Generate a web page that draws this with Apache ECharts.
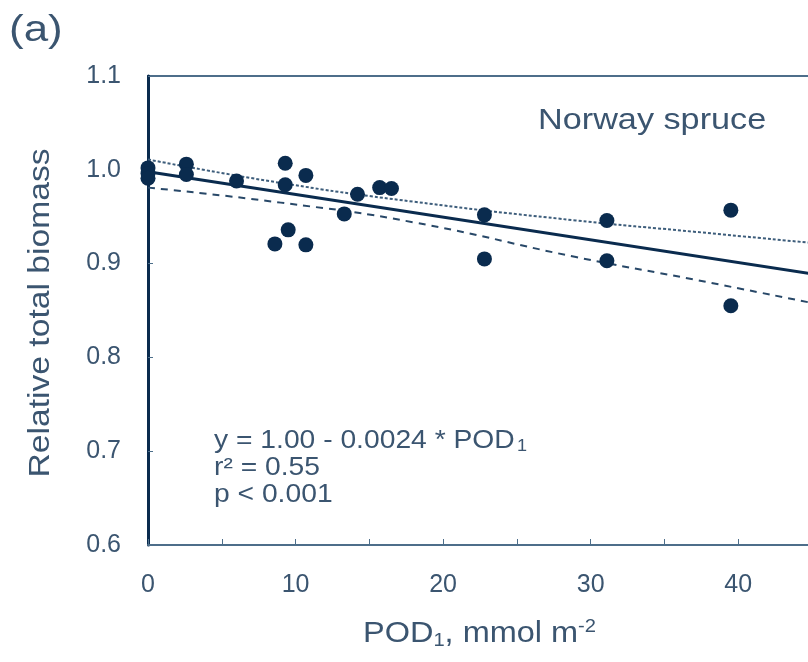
<!DOCTYPE html>
<html>
<head>
<meta charset="utf-8">
<script src="https://cdn.jsdelivr.net/npm/echarts@6/dist/echarts.min.js"></script>
<style>html,body{margin:0;padding:0;background:#fff;}#c{width:808px;height:662px;}</style>
</head>
<body>
<div id="c"></div>
<script>
// Observed points: POD1 (mmol m-2) and relative total biomass
var podValues = [0, 0, 0, 2.6, 2.6, 6.0, 8.6, 9.3, 9.3, 9.5, 10.7, 10.7, 13.3, 14.2, 15.7, 16.5, 22.8, 22.8, 31.1, 31.1, 39.5, 39.5];
var biomassValues = [1.002, 0.996, 0.991, 1.006, 0.995, 0.988, 0.921, 1.007, 0.984, 0.936, 0.994, 0.920, 0.953, 0.974, 0.981, 0.980, 0.952, 0.905, 0.946, 0.903, 0.957, 0.855];
// Regression line endpoints
var fitX = [0, 45];
var fitY = [0.998, 0.889];
// Confidence band
var bandX = [0, 9, 18, 29, 37, 45];
var upperY = [1.011, 0.986, 0.966, 0.946, 0.934, 0.922];
var lowerY = [0.981, 0.965, 0.944, 0.907, 0.883, 0.858];
// Tick labels
var xTickLabels = ['0', '10', '20', '30', '40'];
var yTickLabels = ['0.6', '0.7', '0.8', '0.9', '1.0', '1.1'];

function zip(a, b) { return a.map(function (v, i) { return [v, b[i]]; }); }

var navy = '#0a2b4e';
var axisGray = '#4d6e8a';
var textCol = '#3b5570';
var font = '"Liberation Sans", Arial, sans-serif';

var chart = echarts.init(document.getElementById('c'), null, { renderer: 'canvas' });
chart.setOption({
  animation: false,
  backgroundColor: '#fff',
  grid: { left: 148, top: 76, width: 664, height: 469, outerBoundsMode: 'none', containLabel: false, show: true, borderColor: axisGray, borderWidth: 2 },
  xAxis: {
    type: 'value', min: 0, max: 45, interval: 5,
    axisLine: { show: true, lineStyle: { color: axisGray, width: 2 } },
    axisTick: { show: true, inside: true, length: 6, lineStyle: { color: axisGray, width: 1 } },
    axisLabel: {
      margin: 28, fontSize: 25, color: textCol, fontFamily: font,
      formatter: function (v) { var i = xTickLabels.indexOf(String(v)); return i >= 0 ? xTickLabels[i] : ''; }
    },
    splitLine: { show: false }
  },
  yAxis: {
    type: 'value', min: 0.6, max: 1.1, interval: 0.1,
    axisLine: { show: true, lineStyle: { color: navy, width: 3 } },
    axisTick: { show: true, inside: true, length: 5, lineStyle: { color: axisGray, width: 1 } },
    axisLabel: {
      margin: 27, fontSize: 25, color: textCol, fontFamily: font,
      formatter: function (v) { var s = v.toFixed(1); return yTickLabels.indexOf(s) >= 0 ? s : ''; }
    },
    splitLine: { show: false }
  },
  series: [
    {
      type: 'line', data: zip(bandX, upperY), smooth: true, symbol: 'none',
      lineStyle: { color: '#3d5d7b', width: 2, type: [3, 2] }, z: 2
    },
    {
      type: 'line', data: zip(bandX, lowerY), smooth: true, symbol: 'none',
      lineStyle: { color: '#284868', width: 2, type: [7, 6] }, z: 2
    },
    {
      type: 'line', data: zip(fitX, fitY), symbol: 'none',
      lineStyle: { color: navy, width: 3 }, z: 3
    },
    {
      type: 'scatter', data: zip(podValues, biomassValues), symbol: 'circle', symbolSize: 15,
      itemStyle: { color: navy, opacity: 1 }, z: 4
    }
  ],
  graphic: [
    { type: 'text', x: 9, y: 31, scaleX: 1.22, style: { text: '(a)', font: '36px ' + font, fill: textCol, textVerticalAlign: 'middle' } },
    { type: 'text', x: 538, y: 121, scaleX: 1.18, style: { text: 'Norway spruce', font: '29px ' + font, fill: textCol, textVerticalAlign: 'middle' } },
    {
      type: 'text', x: 41, y: 313, rotation: Math.PI / 2, scaleX: 1.16,
      style: { text: 'Relative total biomass', font: '29px ' + font, fill: textCol, textAlign: 'center', textVerticalAlign: 'middle' }
    },
    {
      type: 'text', x: 363, y: 634, scaleX: 1.12,
      style: {
        text: '{n|POD}{s|1}{n|, mmol m}{p|-2}', textVerticalAlign: 'middle',
        rich: {
          n: { fontSize: 29, fontFamily: font, fill: textCol },
          s: { fontSize: 18, fontFamily: font, fill: textCol, verticalAlign: 'bottom', padding: [14, 0, 0, 0] },
          p: { fontSize: 18, fontFamily: font, fill: textCol, verticalAlign: 'top', padding: [0, 0, 14, 0] }
        }
      }
    },
    {
      type: 'text', x: 214, y: 441, scaleX: 1.13,
      style: {
        text: '{n|y = 1.00 - 0.0024 * POD}{s|1}', textVerticalAlign: 'middle',
        rich: {
          n: { fontSize: 25, fontFamily: font, fill: textCol },
          s: { fontSize: 16, fontFamily: font, fill: textCol, verticalAlign: 'bottom', padding: [12, 0, 0, 2] }
        }
      }
    },
    { type: 'text', x: 214, y: 468, scaleX: 1.13, style: { text: 'r² = 0.55', font: '25px ' + font, fill: textCol, textVerticalAlign: 'middle' } },
    { type: 'text', x: 214, y: 495, scaleX: 1.13, style: { text: 'p < 0.001', font: '25px ' + font, fill: textCol, textVerticalAlign: 'middle' } }
  ]
});
</script>
</body>
</html>
